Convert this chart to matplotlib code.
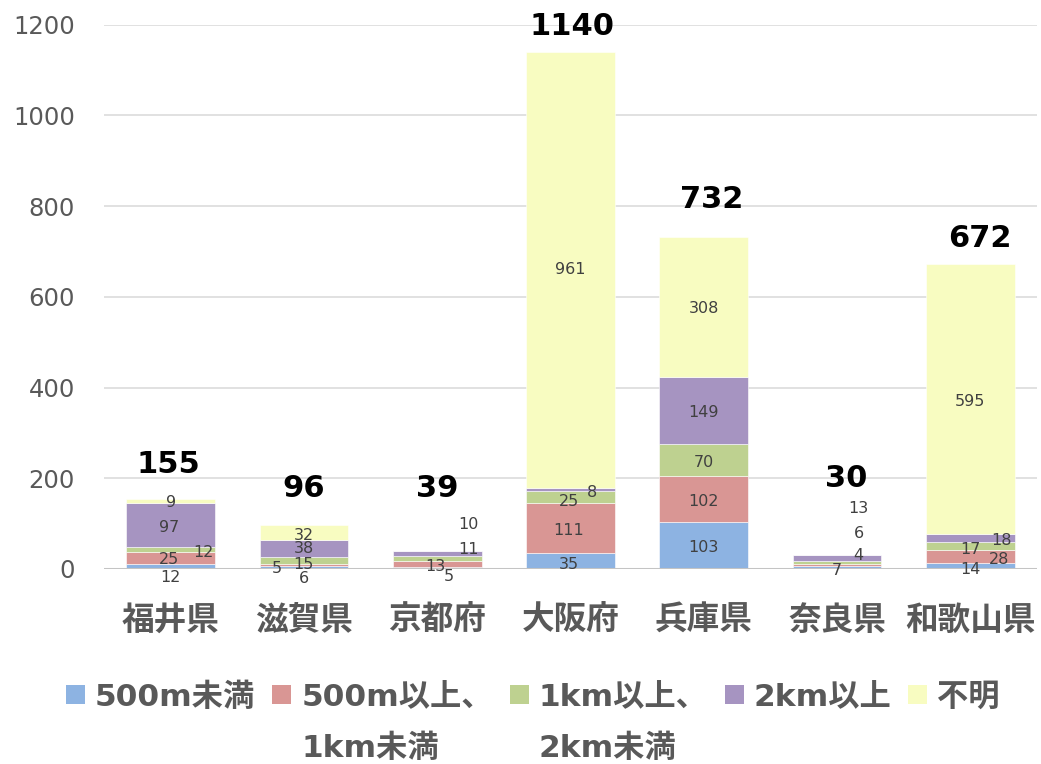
import numpy as np
import matplotlib
matplotlib.use("Agg")
import matplotlib.pyplot as plt
from matplotlib.patches import Rectangle

# ---- data -------------------------------------------------------------
prefectures = ["福井県", "滋賀県", "京都府", "大阪府", "兵庫県", "奈良県", "和歌山県"]
series_names = ["500m未満", "500m以上、\n1km未満", "1km以上、\n2km未満", "2km以上", "不明"]
under_500m = [12, 6, 5, 35, 103, 7, 14]
m500_to_1km = [25, 5, 13, 111, 102, 4, 28]
km1_to_2km = [12, 15, 11, 25, 70, 6, 17]
over_2km = [97, 38, 10, 8, 149, 13, 18]
unknown = [9, 32, 0, 961, 308, 0, 595]
y_ticks = [0, 200, 400, 600, 800, 1000, 1200]

# ---- styling ----------------------------------------------------------
colors = ["#8DB3E2", "#D99694", "#BED190", "#A694C1", "#F8FCC1"]
GRAY = "#595959"
LABEL_GRAY = "#404040"
CJK = "Noto Sans CJK JP"
MIXED = ["DejaVu Sans", "Noto Sans CJK JP"]

# per-segment label nudges (pixels, right/up) so small segments stay readable
label_nudge = [
    [(0, -11), (-2, -2), (33, -3), (-2, -3), (0, -2)],
    [(0, -11), (-27, -3), (0, -4), (0, 0), (0, -3)],
    [(12, -9), (-2, -3), (31, 9), (31, 29), (0, 0)],
    [(-2, -3), (-2, -3), (-2, -4), (21, -3), (0, 0)],
    [(0, -2), (0, -2), (0, -2), (0, -2), (0, -2)],
    [(0, -3), (21, 9), (22, 29), (21, 50), (0, 0)],
    [(0, -4), (29, -3), (0, -3), (31, -2), (0, -2)],
]
# total labels: horizontal shift (category units) and lift above bar (pixels)
total_shift = [-0.02, 0.0, 0.0, 0.015, 0.06, 0.07, 0.075]
total_lift = [34, 37, 63, 25, 37, 77, 26]

W, H = 1041, 764
fig = plt.figure(figsize=(W / 100, H / 100), dpi=100)
ax = fig.add_axes([104 / W, 195 / H, (1037 - 104) / W, (569 - 24.5) / H])

series = [under_500m, m500_to_1km, km1_to_2km, over_2km, unknown]
x = np.arange(len(prefectures))
bottom = np.zeros(len(prefectures))
for s, (vals, col) in enumerate(zip(series, colors)):
    vals = np.array(vals, dtype=float)
    ax.bar(x, vals, bottom=bottom, width=0.665, color=col,
           edgecolor="white", linewidth=0.4, zorder=3)
    for i, v in enumerate(vals):
        if v <= 0:
            continue
        dx, dy = label_nudge[i][s]
        ax.annotate(f"{int(v)}", (x[i], bottom[i] + v / 2),
                    xytext=(dx, dy), textcoords="offset pixels",
                    ha="center", va="center", fontsize=11.5,
                    color=LABEL_GRAY, family="DejaVu Sans", zorder=5)
    bottom += vals

totals = bottom
for i, t in enumerate(totals):
    ax.annotate(f"{int(t)}", (x[i] + total_shift[i], t),
                xytext=(0, total_lift[i]), textcoords="offset pixels",
                ha="center", va="center", fontsize=22, fontweight="bold",
                color="black", family="DejaVu Sans", zorder=5)

ax.set_xlim(-0.5, len(prefectures) - 0.5)
ax.set_ylim(0, 1200)
ax.set_yticks(y_ticks)
ax.set_yticklabels([str(v) for v in y_ticks], fontsize=17.5, color=GRAY,
                   family="DejaVu Sans")
ax.set_xticks(x)
ax.set_xticklabels(prefectures, fontsize=23.5, fontweight="bold", color=GRAY,
                   family=CJK)
ax.tick_params(axis="y", length=0, pad=21)
ax.tick_params(axis="x", length=0, pad=25)
for sp in ax.spines.values():
    sp.set_visible(False)
ax.grid(axis="y", color="#dedede", linewidth=1.3, zorder=0)
ax.axhline(0, color="#c4c4c4", linewidth=2.2, zorder=4)

# ---- legend laid out across the bottom ----------------------------------
renderer = fig.canvas.get_renderer()
row1_y = 694
row2_y = 745
sq = 19
cursor = 66
for name, col in zip(series_names, colors):
    lines = name.split("\n")
    fig.patches.append(Rectangle((cursor / W, (H - row1_y - sq / 2) / H), sq / W, sq / H,
                                 transform=fig.transFigure, facecolor=col,
                                 edgecolor="none"))
    tx = cursor + sq + 10
    widths = []
    for k, line in enumerate(lines):
        ty = row1_y if k == 0 else row2_y
        t = fig.text(tx / W, (H - ty) / H, line, fontsize=22.5, fontweight="bold",
                     color=GRAY, family=MIXED, ha="left", va="center_baseline")
        widths.append(t.get_window_extent(renderer).width)
    cursor = tx + widths[0] + 17

fig.savefig("out.png", dpi=100)
